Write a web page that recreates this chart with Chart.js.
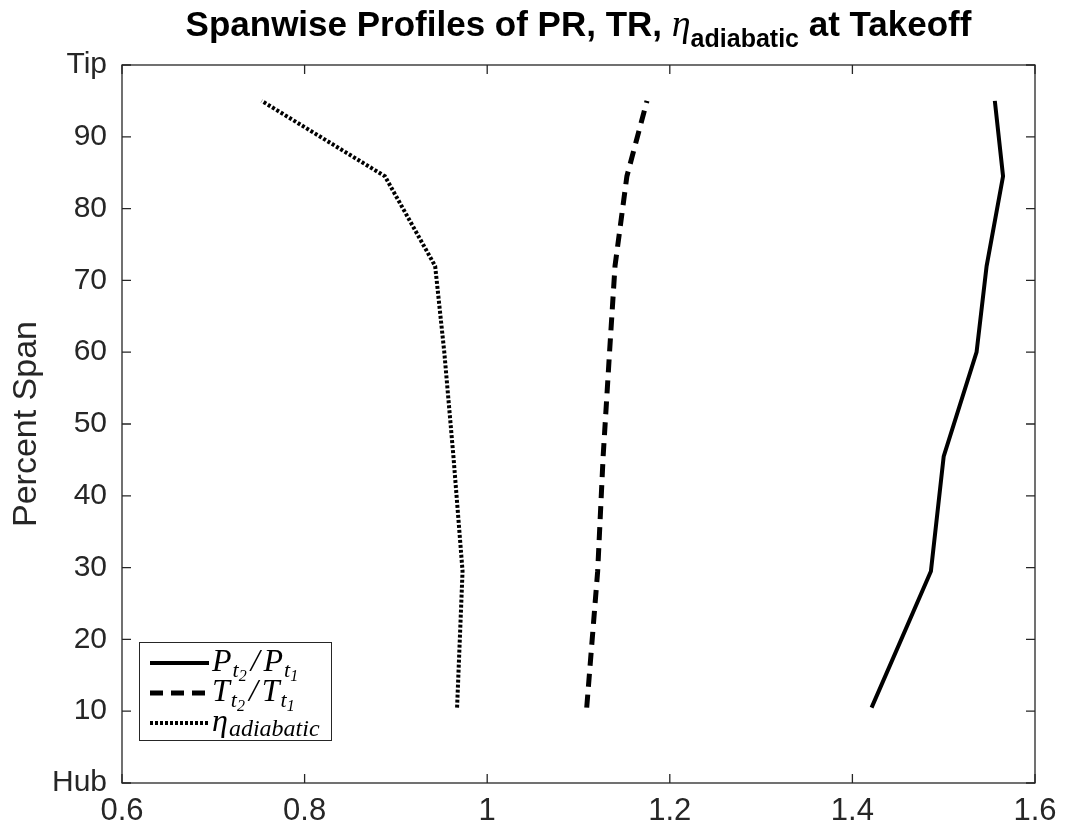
<!DOCTYPE html>
<html>
<head>
<meta charset="utf-8">
<script src="https://cdn.jsdelivr.net/npm/chart.js@4"></script>
<style>
  html, body { margin: 0; padding: 0; background: #fff; }
  #wrap { width: 1065px; height: 833px; }
</style>
</head>
<body>
<div id="wrap"><canvas id="profiles" width="1065" height="833"></canvas></div>
<script>
// Spanwise stations (percent span) and the three profiles
const span = [10.5, 29.5, 45.5, 60, 72, 84.5, 95];
const pressureRatio = [1.421, 1.486, 1.500, 1.536, 1.547, 1.565, 1.556];
const tempRatio = [1.109, 1.121, 1.127, 1.134, 1.140, 1.153, 1.175];
const etaAdiabatic = [0.967, 0.973, 0.963, 0.953, 0.943, 0.888, 0.753];

const xTicks = [0.6, 0.8, 1.0, 1.2, 1.4, 1.6];
const yTicks = [0, 10, 20, 30, 40, 50, 60, 70, 80, 90, 100];
const yTickText = { 0: "Hub", 100: "Tip" };

const ink = "#262626";
const sans = "'Liberation Sans', Arial, sans-serif";
const serif = "'Liberation Serif', 'Times New Roman', serif";

function pts(xs) {
  return xs.map((x, i) => ({ x: x, y: span[i] }));
}

// draw a run of text pieces with their own font and baseline shift
function drawRun(ctx, pieces, x, y) {
  let cx = x;
  pieces.forEach(p => {
    ctx.font = p.font;
    cx += p.pre || 0;
    ctx.fillText(p.text, cx, y + (p.dy || 0));
    cx += ctx.measureText(p.text).width + (p.post || 0);
  });
  return cx;
}
function runWidth(ctx, pieces) {
  let w = 0;
  pieces.forEach(p => {
    ctx.font = p.font;
    w += ctx.measureText(p.text).width + (p.pre || 0) + (p.post || 0);
  });
  return w;
}

const it = s => "italic " + s + "px " + serif;
const legendItems = [
  { dash: [], width: 4, text: [
    { text: "P", font: it(32), post: 1 }, { text: "t", font: it(22), dy: 6 }, { text: "2", font: it(16), dy: 10, post: 4 },
    { text: "/", font: it(32), post: 4 },
    { text: "P", font: it(32), post: 1 }, { text: "t", font: it(22), dy: 6 }, { text: "1", font: it(16), dy: 10 }
  ]},
  { dash: [13, 8], width: 5, text: [
    { text: "T", font: it(32), post: 1 }, { text: "t", font: it(22), dy: 6 }, { text: "2", font: it(16), dy: 10, post: 4 },
    { text: "/", font: it(32), post: 4 },
    { text: "T", font: it(32), post: 1 }, { text: "t", font: it(22), dy: 6 }, { text: "1", font: it(16), dy: 10 }
  ]},
  { dash: [3, 2], width: 4, text: [
    { text: "η", font: it(32), post: 1 }, { text: "adiabatic", font: it(24), dy: 5 }
  ]}
];

const decor = {
  id: "decor",
  afterDraw(chart) {
    const ctx = chart.ctx;
    const a = chart.chartArea;
    const xs = chart.scales.x, ys = chart.scales.y;
    ctx.save();
    // frame and inward ticks on all four sides
    ctx.strokeStyle = ink;
    ctx.lineWidth = 1.3;
    ctx.strokeRect(a.left, a.top, a.right - a.left, a.bottom - a.top);
    ctx.beginPath();
    xTicks.forEach(v => {
      const px = xs.getPixelForValue(v);
      ctx.moveTo(px, a.bottom); ctx.lineTo(px, a.bottom - 9);
      ctx.moveTo(px, a.top); ctx.lineTo(px, a.top + 9);
    });
    yTicks.forEach(v => {
      const py = ys.getPixelForValue(v);
      ctx.moveTo(a.left, py); ctx.lineTo(a.left + 9, py);
      ctx.moveTo(a.right, py); ctx.lineTo(a.right - 9, py);
    });
    ctx.stroke();

    // title
    const title = [
      { text: "Spanwise Profiles of PR, TR, ", font: "bold 35px " + sans },
      { text: "η", font: "italic 38px " + serif },
      { text: "adiabatic", font: "bold 25px " + sans, dy: 11 },
      { text: " at Takeoff", font: "bold 35px " + sans }
    ];
    ctx.fillStyle = "#000";
    ctx.textBaseline = "alphabetic";
    const tw = runWidth(ctx, title);
    drawRun(ctx, title, (a.left + a.right) / 2 - tw / 2, 36);

    // legend
    const bx = 139, by = 642, bw = 192, bh = 98;
    ctx.fillStyle = "#fff";
    ctx.fillRect(bx, by, bw, bh);
    ctx.strokeStyle = ink;
    ctx.lineWidth = 1;
    ctx.strokeRect(bx + 0.5, by + 0.5, bw, bh);
    legendItems.forEach((item, i) => {
      const cy = by + 21 + i * 30;
      ctx.strokeStyle = "#000";
      ctx.lineWidth = item.width;
      ctx.setLineDash(item.dash);
      ctx.beginPath();
      ctx.moveTo(150, cy); ctx.lineTo(209, cy);
      ctx.stroke();
      ctx.setLineDash([]);
      ctx.fillStyle = "#000";
      drawRun(ctx, item.text, 212, cy + 8);
    });
    ctx.restore();
  }
};

new Chart(document.getElementById("profiles"), {
  type: "scatter",
  data: {
    datasets: [
      {
        label: "Pt2/Pt1",
        data: pts(pressureRatio),
        showLine: true,
        borderColor: "#000",
        borderWidth: 4,
        pointRadius: 0
      },
      {
        label: "Tt2/Tt1",
        data: pts(tempRatio),
        showLine: true,
        borderColor: "#000",
        borderWidth: 5,
        borderDash: [13, 8],
        pointRadius: 0
      },
      {
        label: "eta adiabatic",
        data: pts(etaAdiabatic),
        showLine: true,
        borderColor: "#000",
        borderWidth: 4,
        borderDash: [3, 2],
        pointRadius: 0
      }
    ]
  },
  options: {
    responsive: false,
    animation: false,
    layout: { padding: { left: 0, right: 30, top: 65, bottom: 0 } },
    plugins: {
      legend: { display: false },
      tooltip: { enabled: false }
    },
    scales: {
      x: {
        type: "linear",
        min: 0.6,
        max: 1.6,
        afterFit: s => { s.height = 50; },
        afterBuildTicks: s => { s.ticks = xTicks.map(v => ({ value: v })); },
        grid: { display: false },
        border: { display: false },
        ticks: {
          color: ink,
          padding: 2,
          font: { family: sans, size: 31 },
          callback: v => String(Math.round(v * 10) / 10)
        }
      },
      y: {
        type: "linear",
        min: 0,
        max: 100,
        afterFit: s => { s.width = 122; },
        afterBuildTicks: s => { s.ticks = yTicks.map(v => ({ value: v })); },
        grid: { display: false },
        border: { display: false },
        title: {
          display: true,
          text: "Percent Span",
          color: ink,
          padding: { top: 6, bottom: 0 },
          font: { family: sans, size: 34 }
        },
        ticks: {
          color: ink,
          padding: 7,
          font: { family: sans, size: 30 },
          callback: v => (yTickText[v] !== undefined ? yTickText[v] : String(v))
        }
      }
    }
  },
  plugins: [decor]
});
</script>
</body>
</html>
